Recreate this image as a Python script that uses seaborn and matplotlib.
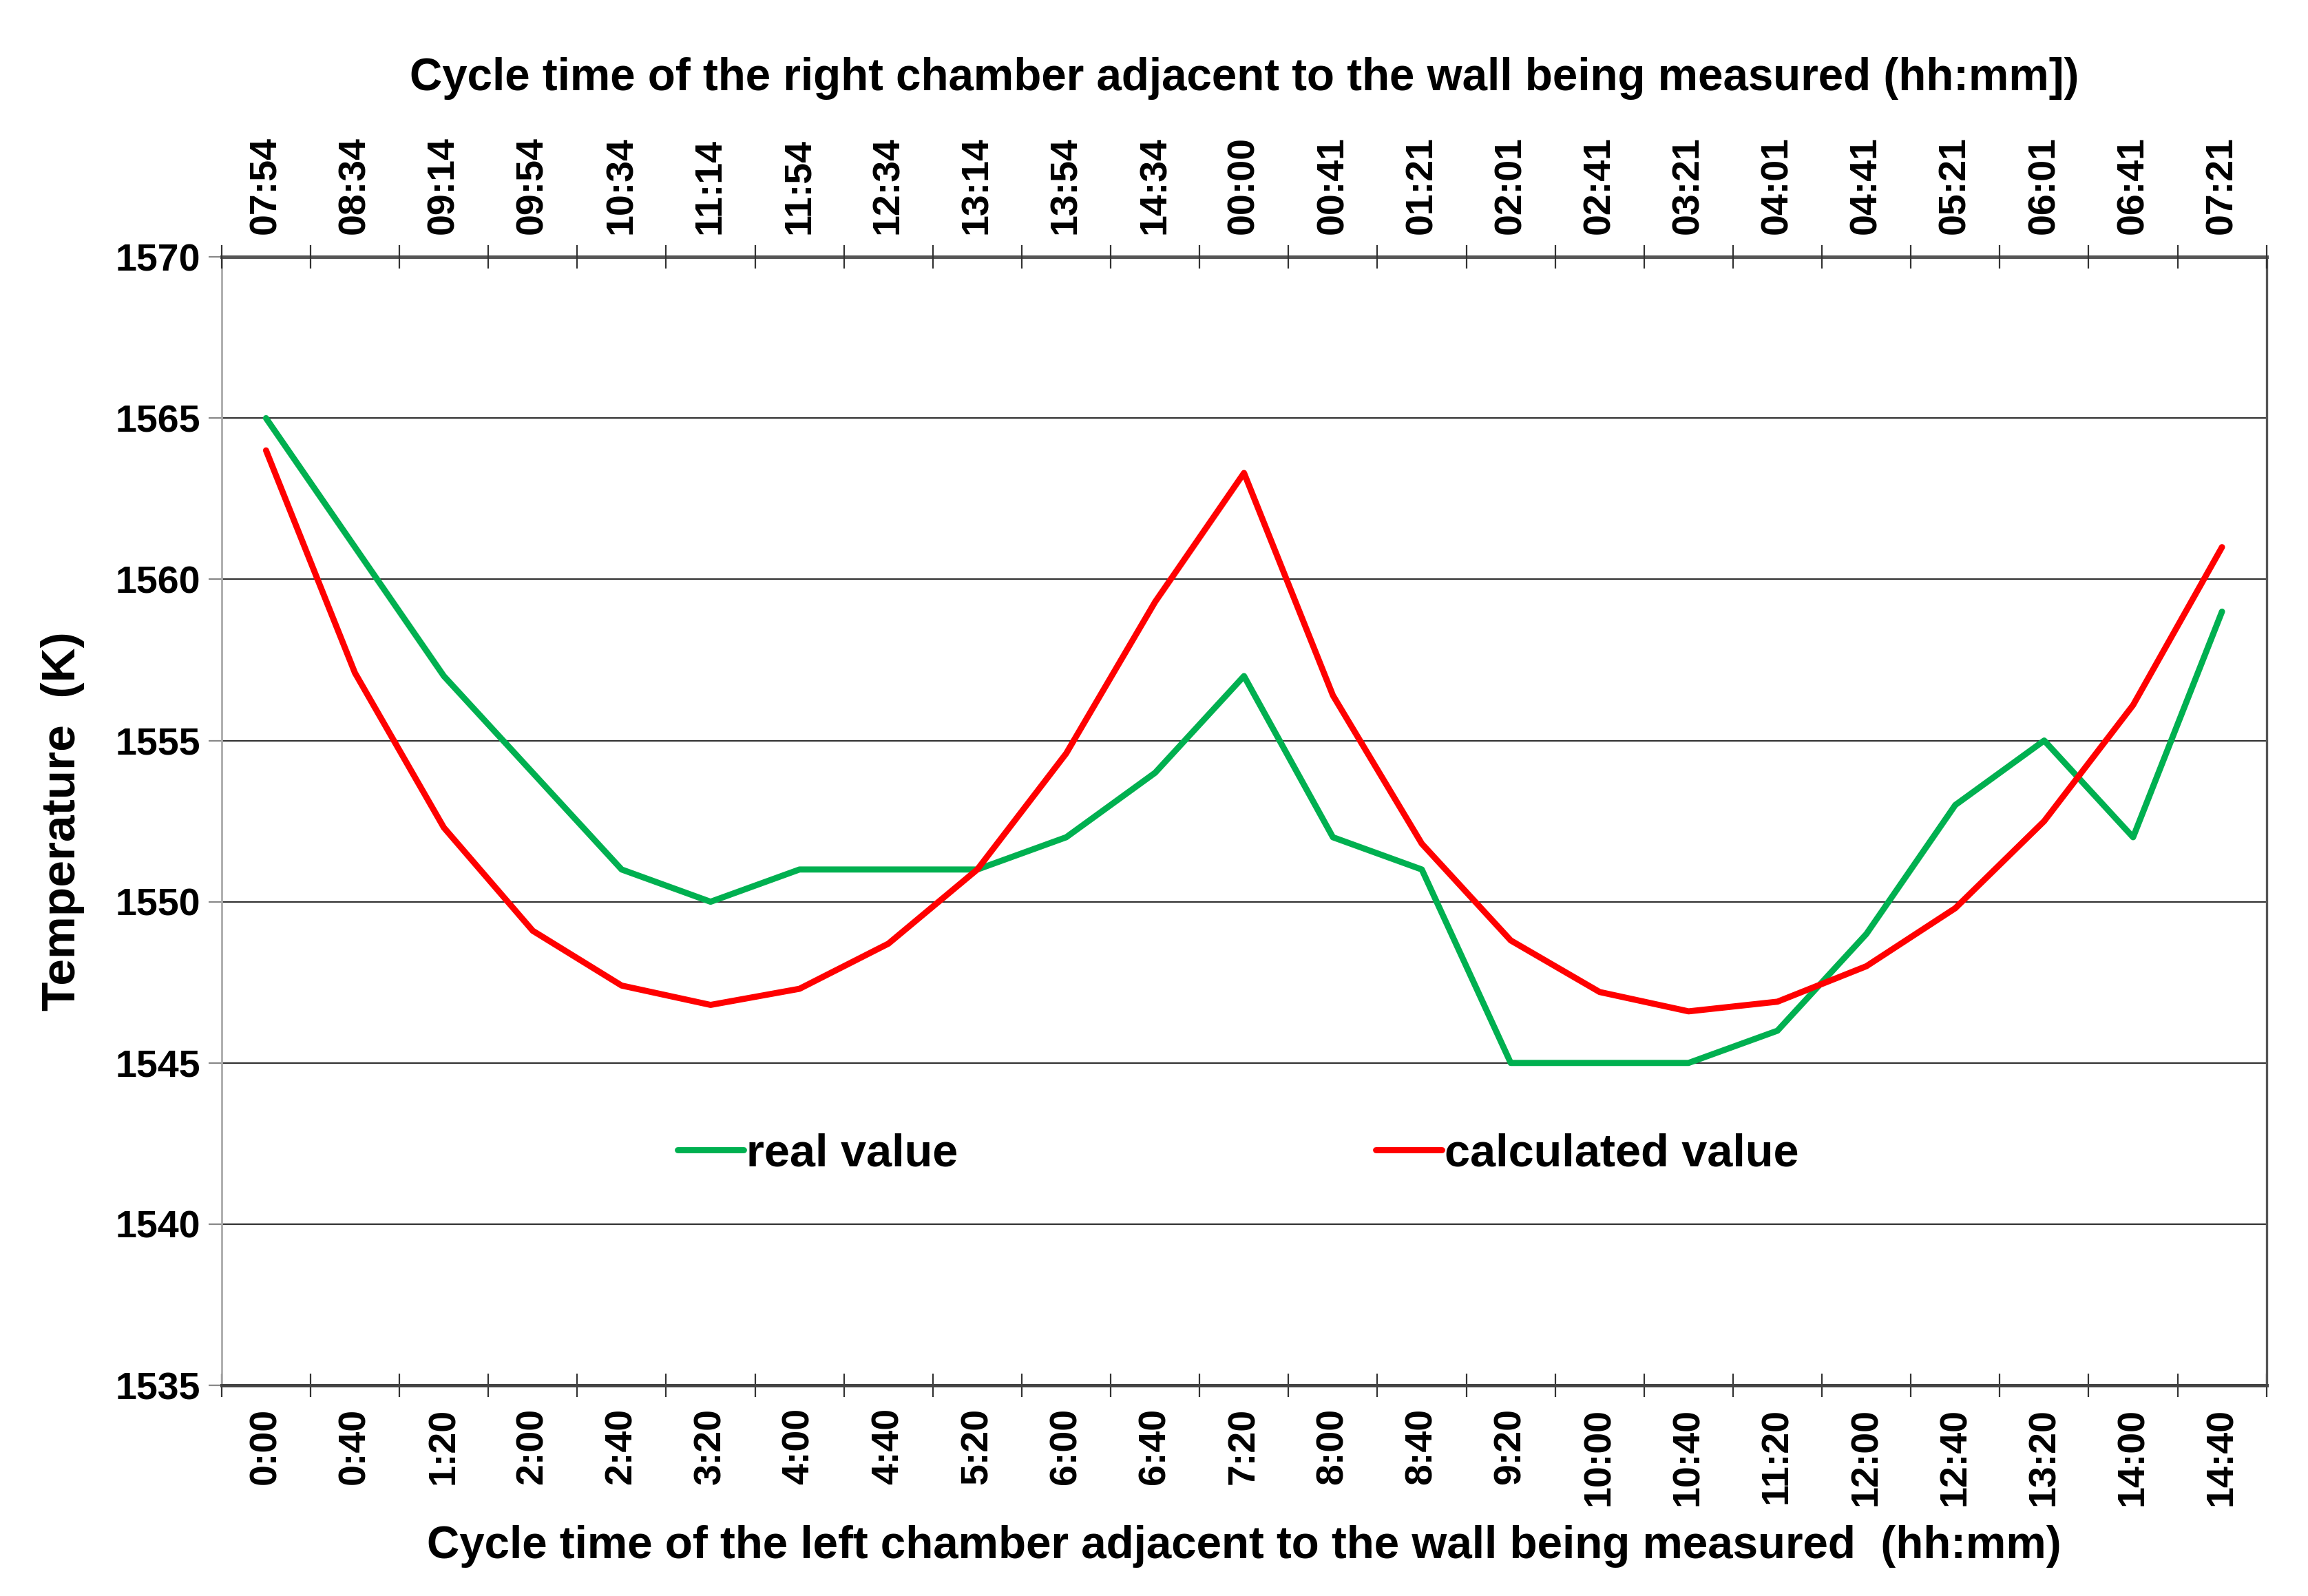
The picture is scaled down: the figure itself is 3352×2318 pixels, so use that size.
import numpy as np
import pandas as pd
import matplotlib
matplotlib.use("Agg")
from matplotlib import pyplot as plt
import seaborn as sns

# Data
left_times = ["0:00", "0:40", "1:20", "2:00", "2:40", "3:20", "4:00", "4:40",
              "5:20", "6:00", "6:40", "7:20", "8:00", "8:40", "9:20", "10:00",
              "10:40", "11:20", "12:00", "12:40", "13:20", "14:00", "14:40"]
right_times = ["07:54", "08:34", "09:14", "09:54", "10:34", "11:14", "11:54",
               "12:34", "13:14", "13:54", "14:34", "00:00", "00:41", "01:21",
               "02:01", "02:41", "03:21", "04:01", "04:41", "05:21", "06:01",
               "06:41", "07:21"]
real_value = [1565, 1561, 1557, 1554, 1551, 1550, 1551, 1551, 1551, 1552, 1554,
              1557, 1552, 1551, 1545, 1545, 1545, 1546, 1549, 1553, 1555, 1552,
              1559]
calculated_value = [1564.0, 1557.1, 1552.3, 1549.1, 1547.4, 1546.8, 1547.3,
                    1548.7, 1551.0, 1554.6, 1559.3, 1563.3, 1556.4, 1551.8,
                    1548.8, 1547.2, 1546.6, 1546.9, 1548.0, 1549.8, 1552.5,
                    1556.1, 1561.0]

pos = np.arange(len(left_times))
df = pd.DataFrame({"pos": pos, "real": real_value, "calc": calculated_value})

sns.set_style("white")
plt.rcParams["font.family"] = ["Liberation Sans", "DejaVu Sans"]
plt.rcParams["font.weight"] = "bold"
plt.rcParams["text.color"] = "black"
plt.rcParams["axes.labelcolor"] = "black"
plt.rcParams["xtick.color"] = "black"
plt.rcParams["ytick.color"] = "black"

fig, ax = plt.subplots(figsize=(16.76, 11.59), dpi=200)
fig.subplots_adjust(left=0.096, right=0.982, top=0.839, bottom=0.132)

sns.lineplot(data=df, x="pos", y="real", ax=ax, color="#00b050", lw=3.2,
             label="real value")
sns.lineplot(data=df, x="pos", y="calc", ax=ax, color="#ff0000", lw=3.2,
             label="calculated value")

ax.set_xlim(-0.5, len(pos) - 0.5)
ax.set_ylim(1535, 1570)
ax.set_yticks(np.arange(1535, 1571, 5))
ax.yaxis.grid(True, color="#333333", lw=0.8)
ax.set_axisbelow(True)
ax.tick_params(axis="y", left=True, length=7, width=0.8, color="#888888",
               labelsize=20, pad=4, labelcolor="black")
for t in ax.get_yticklabels():
    t.set_fontweight("bold")

# bottom axis: labels at category centres, ticks at boundaries
ax.set_xticks(pos)
ax.set_xticklabels(left_times, rotation=90, fontsize=20, fontweight="bold")
ax.set_xticks(np.arange(-0.5, len(pos)), minor=True)
ax.tick_params(axis="x", which="major", length=0, pad=12, labelcolor="black")
ax.tick_params(axis="x", which="minor", bottom=True, direction="inout",
               length=12, width=0.8, color="#333333")

ax.spines["left"].set_color("#aaaaaa")
ax.spines["left"].set_linewidth(1.0)
ax.spines["right"].set_color("#555555")
ax.spines["right"].set_linewidth(1.2)
ax.spines["bottom"].set_color("#444444")
ax.spines["bottom"].set_linewidth(1.8)
ax.spines["top"].set_color("#555555")
ax.spines["top"].set_linewidth(1.8)

ax.set_xlabel("Cycle time of the left chamber adjacent to the wall being measured  (hh:mm)",
              fontsize=23.6, fontweight="bold", labelpad=10, color="black")
ax.set_ylabel("Temperature  (K)", fontsize=25, fontweight="bold", labelpad=16,
              color="black")

# top axis
top = ax.twiny()
top.set_xlim(ax.get_xlim())
top.set_xticks(pos)
top.set_xticklabels(right_times, rotation=90, fontsize=20, fontweight="bold")
top.set_xticks(np.arange(-0.5, len(pos)), minor=True)
top.tick_params(axis="x", which="major", length=0, pad=12, labelcolor="black")
top.tick_params(axis="x", which="minor", top=True, direction="inout",
                length=12, width=0.8, color="#333333")
for s in top.spines.values():
    s.set_visible(False)
top.set_xlabel("Cycle time of the right chamber adjacent to the wall being measured (hh:mm])",
               fontsize=23.6, fontweight="bold", labelpad=24, color="black")

leg = ax.legend(loc="center", bbox_to_anchor=(0.497, 0.205), ncol=2,
                frameon=False, fontsize=24, handlelength=1.45,
                handletextpad=0.05, columnspacing=9.1)
for t in leg.get_texts():
    t.set_fontweight("bold")
    t.set_color("black")

fig.savefig("out.png", dpi=200)
